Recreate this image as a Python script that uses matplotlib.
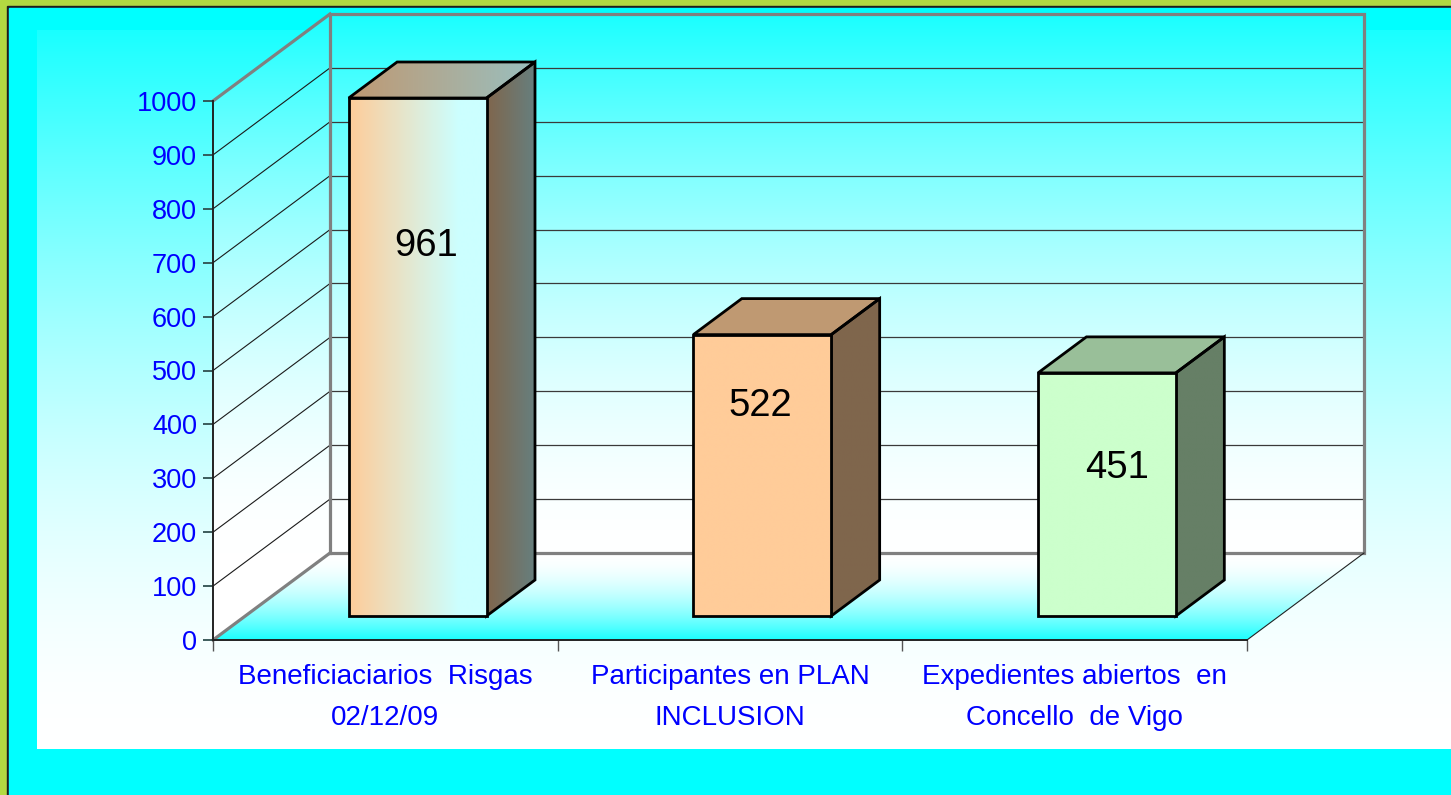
import numpy as np
import matplotlib.pyplot as plt
from matplotlib.patches import Polygon, Rectangle
from matplotlib.colors import to_rgb

categories = ['Beneficiaciarios  Risgas\n02/12/09',
              'Participantes en PLAN\nINCLUSION',
              'Expedientes abiertos  en\nConcello  de Vigo']
values = [961, 522, 451]
bar_colors = [('#FFCC99', '#CCFFFF'), ('#FFCC99', '#FFCC99'), ('#CCFFCC', '#CCFFCC')]
yticks = list(range(0, 1001, 100))

# layout (pixels)
W, H = 1451, 795
L, R, B, T = 213, 1247, 640, 101      # front plane of the plot box
DXP, DYP = 117, 87                    # depth of the box
ymax = 1000
ncat = len(categories)
bar_w = 0.4
d0, d1 = 0.276, 0.69                  # bar depth range
label_frac = [0.715, 0.745, 0.61]
label_dx = [0.025, -0.006, 0.03]

plt.rcParams['font.family'] = ['Liberation Sans', 'DejaVu Sans']
fig = plt.figure(figsize=(W / 100, H / 100), dpi=100)

# background frame
bg = fig.add_axes([0, 0, 1, 1])
bg.set_xlim(0, W)
bg.set_ylim(H, 0)
bg.axis('off')
bg.add_patch(Rectangle((0, 0), W, H, color='#B3D941'))
bg.add_patch(Rectangle((6.5, 5.5), W, H, color='#1E1E1E'))
bg.add_patch(Rectangle((8.5, 7.5), W, H, color='#00FFFF'))
s = np.linspace(0, 1, 300)
r = 1 - 0.9 * s ** 1.7
img = np.stack([r, np.ones_like(s), np.ones_like(s)], axis=1)[:, None, :]
bg.imshow(img, extent=(37, W, 749, 30), origin='lower', aspect='auto', zorder=2)
bg.set_xlim(0, W)
bg.set_ylim(H, 0)

# main axes with the same data scale as the front plane
ax = fig.add_axes([0, 0, 1, 1])
ax.patch.set_alpha(0)
ax.axis('off')
sx = (R - L) / ncat
sy = (B - T) / ymax
DX = DXP / sx
DY = DYP / sy


def P(x, v, d):
    return (x + d * DX, v + d * DY)


def grad_poly(pts, c0, c1, vertical=False, span=None, curve=lambda t: t,
              z=1, edge='none', lw=0):
    pts = np.array(pts)
    x0, y0 = pts.min(0)
    x1, y1 = pts.max(0)
    a, b = (y0, y1) if vertical else (x0, x1)
    if span is not None:
        a2, b2 = span
    else:
        a2, b2 = a, b
    pos = np.linspace(a, b, 300)
    t = curve(np.clip((pos - a2) / (b2 - a2), 0, 1))
    cols = np.array(to_rgb(c0))[None, :] * (1 - t[:, None]) + np.array(to_rgb(c1))[None, :] * t[:, None]
    im_ = cols[:, None, :] if vertical else cols[None, :, :]
    im = ax.imshow(im_, extent=(x0, x1, y0, y1), origin='lower', aspect='auto',
                   interpolation='bilinear', zorder=z)
    poly = Polygon(pts, closed=True, fc='none', ec=edge, lw=lw, zorder=z + 0.1,
                   joinstyle='miter')
    ax.add_patch(poly)
    im.set_clip_path(poly)


# walls
walls = [P(0, 0, 0), P(0, 0, 1), P(ncat, 0, 1), P(ncat, ymax, 1), P(0, ymax, 1), P(0, ymax, 0)]
grad_poly(walls, '#FFFFFF', '#1AFFFF', vertical=True, span=(DY, ymax + DY),
          curve=lambda t: t ** 1.7, z=1)
# floor
floor = [P(0, 0, 0), P(ncat, 0, 0), P(ncat, 0, 1), P(0, 0, 1)]
grad_poly(floor, '#1AFFFF', '#FFFFFF', vertical=True,
          curve=lambda t: 1 - (1 - t) ** 1.8, z=1)

# gridlines
for v in yticks[1:-1]:
    xa, ya = zip(P(0, v, 1), P(ncat, v, 1))
    ax.plot(xa, ya, color='#3A3A3A', lw=0.9, zorder=2)
    xa, ya = zip(P(0, v, 0), P(0, v, 1))
    ax.plot(xa, ya, color='#1A1A1A', lw=0.8, zorder=2)

# wall outlines
grey = '#808080'
back = [P(0, 0, 1), P(ncat, 0, 1), P(ncat, ymax, 1), P(0, ymax, 1), P(0, 0, 1)]
xa, ya = zip(*back)
ax.plot(xa, ya, color=grey, lw=2.3, zorder=3, solid_joinstyle='miter')
for v in (0, ymax):
    xa, ya = zip(P(0, v, 0), P(0, v, 1))
    ax.plot(xa, ya, color=grey, lw=2.3, zorder=3)
xa, ya = zip(P(ncat, 0, 0), P(ncat, 0, 1))
ax.plot(xa, ya, color='#222222', lw=0.8, zorder=3)

# bars
for i, (v, (c0, c1)) in enumerate(zip(values, bar_colors)):
    xl = i + 0.5 - bar_w / 2
    xr = i + 0.5 + bar_w / 2
    sh = lambda c, k: tuple(np.array(to_rgb(c)) * k)
    ramp = lambda t: np.clip(t / 0.8, 0, 1)
    side = [P(xr, 0, d0), P(xr, 0, d1), P(xr, v, d1), P(xr, v, d0)]
    grad_poly(side, sh(c0, 0.5), sh(c1, 0.5), z=5, edge='black', lw=2)
    top = [P(xl, v, d0), P(xr, v, d0), P(xr, v, d1), P(xl, v, d1)]
    grad_poly(top, sh(c0, 0.75), sh(c1, 0.75), z=5, edge='black', lw=2)
    front = [P(xl, 0, d0), P(xr, 0, d0), P(xr, v, d0), P(xl, v, d0)]
    grad_poly(front, c0, c1, curve=ramp, z=6, edge='black', lw=2)
    lx, ly = P(i + 0.5 + label_dx[i], v * label_frac[i], d0)
    ax.text(lx, ly, str(v), fontsize=27.5, ha='center', va='center', color='black', zorder=8)

ax.set_xlim(-L / sx, ncat + (W - R) / sx)
ax.set_ylim(-(H - B) / sy, ymax + T / sy)

# front axes: spines, ticks and labels
fa = fig.add_axes([L / W, (H - B) / H, (R - L) / W, (B - T) / H])
fa.patch.set_alpha(0)
fa.set_xlim(0, ncat)
fa.set_ylim(0, ymax)
for sp in ('top', 'right'):
    fa.spines[sp].set_visible(False)
for sp in ('left', 'bottom'):
    fa.spines[sp].set_color('#222222')
    fa.spines[sp].set_linewidth(1.4)
fa.set_yticks(yticks)
fa.tick_params(axis='y', length=7.2, width=1.3, color='#2F4F4F', pad=4.3,
               labelsize=19.5, labelcolor='#0000FF')
fa.set_xticks(range(ncat + 1))
fa.set_xticklabels([])
fa.set_xticks([i + 0.5 for i in range(ncat)], minor=True)
fa.set_xticklabels(categories, minor=True)
fa.tick_params(axis='x', which='major', length=8, width=1.0, color='#555555')
fa.tick_params(axis='x', which='minor', length=0, pad=17.5, labelsize=20,
               labelcolor='#0000FF')
for lbl in fa.get_xticklabels(minor=True):
    lbl.set_linespacing(1.75)

fig.savefig('out.png', dpi=100)
